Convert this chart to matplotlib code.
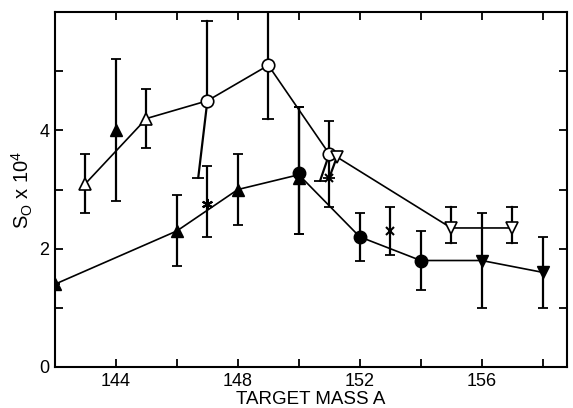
import numpy as np
import matplotlib
matplotlib.use("Agg")
import matplotlib.pyplot as plt

plt.rcParams['font.family'] = ['Liberation Sans', 'DejaVu Sans']
plt.rcParams['mathtext.fontset'] = 'custom'
plt.rcParams['mathtext.rm'] = 'Liberation Sans'
plt.rcParams['mathtext.it'] = 'Liberation Sans'

# lower (filled) curve through these points
low_line_x = [142, 146, 148, 150, 152, 154, 156, 158]
low_line_y = [1.4, 2.3, 3.0, 3.25, 2.2, 1.8, 1.8, 1.6]

# upper (open) curve
up_line_x = [143, 145, 147, 149, 151, 151.25, 155, 157]
up_line_y = [3.1, 4.2, 4.5, 5.1, 3.6, 3.55, 2.35, 2.35]

# filled triangles
ftri_x = [142, 144, 146, 148, 150]
ftri_y = [1.4, 4.0, 2.3, 3.0, 3.2]
ftri_lo = [1.4, 2.8, 1.7, 2.4, 2.25]
ftri_hi = [1.4, 5.2, 2.9, 3.6, 4.4]

# filled circles
fcir_x = [150, 152, 154]
fcir_y = [3.28, 2.2, 1.8]
fcir_lo = [2.25, 1.8, 1.3]
fcir_hi = [4.4, 2.6, 2.3]

# filled inverted triangles
finv_x = [156, 158]
finv_y = [1.8, 1.6]
finv_lo = [1.0, 1.0]
finv_hi = [2.6, 2.2]

# asterisk
ast_x = [147]
ast_y = [2.75]
ast_lo = [2.2]
ast_hi = [3.4]

# crosses
crs_x = [151, 153]
crs_y = [3.2, 2.3]
crs_lo = [2.7, 1.9]
crs_hi = [4.15, 2.7]

# open triangles
otri_x = [143, 145]
otri_y = [3.1, 4.2]
otri_lo = [2.6, 3.7]
otri_hi = [3.6, 4.7]

# open circles (upper bars vertical, some lower bars drawn slanted)
ocir_x = [147, 149, 151]
ocir_y = [4.5, 5.1, 3.6]
ocir_hi = [5.85, 6.0, 3.6]
ocir_lo_x = [146.7, 149, 150.7]
ocir_lo_y = [3.2, 4.2, 3.15]

# open inverted triangles
oinv_x = [151.25, 155, 157]
oinv_y = [3.55, 2.35, 2.35]
oinv_lo_x = [151.0, 155, 157]
oinv_lo_y = [3.2, 2.1, 2.1]
oinv_hi = [3.55, 2.7, 2.7]

fig = plt.figure(figsize=(5.73, 4.08), dpi=100)
ax = fig.add_axes([0.096, 0.1005, 0.8935, 0.87])

ekw = dict(fmt='none', ecolor='black', elinewidth=1.6, capsize=3.5, capthick=1.3, zorder=2)


def bars(x, y, lo, hi):
    y = np.array(y)
    err = [y - np.array(lo), np.array(hi) - y]
    ax.errorbar(x, y, yerr=err, **ekw)


def bar_to(x, y, ex, ey):
    # bar from the point to a capped end, end may sit a bit off in x
    ax.plot([x, ex], [y, ey], color='black', lw=1.6, zorder=2)
    ax.plot([ex], [ey], marker='_', ms=8, mew=1.3, color='black', zorder=2)


bars(ftri_x, ftri_y, ftri_lo, ftri_hi)
bars(fcir_x, fcir_y, fcir_lo, fcir_hi)
bars(finv_x, finv_y, finv_lo, finv_hi)
bars(ast_x, ast_y, ast_lo, ast_hi)
bars(crs_x, crs_y, crs_lo, crs_hi)
bars(otri_x, otri_y, otri_lo, otri_hi)

for x, y, hi, lx, ly in zip(ocir_x, ocir_y, ocir_hi, ocir_lo_x, ocir_lo_y):
    if hi > y:
        bar_to(x, y, x, hi)
    bar_to(x, y, lx, ly)

for x, y, hi, lx, ly in zip(oinv_x, oinv_y, oinv_hi, oinv_lo_x, oinv_lo_y):
    if hi > y:
        bar_to(x, y, x, hi)
    bar_to(x, y, lx, ly)

ax.plot(low_line_x, low_line_y, color='black', lw=1.2, zorder=3)
ax.plot(up_line_x, up_line_y, color='black', lw=1.2, zorder=3)

ax.plot(ftri_x, ftri_y, ls='none', marker='^', ms=9, mfc='black', mec='black', zorder=4)
ax.plot(fcir_x, fcir_y, ls='none', marker='o', ms=9, mfc='black', mec='black', zorder=4)
ax.plot(finv_x, finv_y, ls='none', marker='v', ms=9, mfc='black', mec='black', zorder=4)
ax.plot(ast_x, ast_y, ls='none', marker=(6, 2, 0), ms=8, mew=1.5, color='black', zorder=4)
ax.plot(crs_x, crs_y, ls='none', marker='x', ms=6, mew=1.5, color='black', zorder=4)
ax.plot(otri_x, otri_y, ls='none', marker='^', ms=9, mfc='white', mec='black', mew=1.2, zorder=4)
ax.plot(ocir_x, ocir_y, ls='none', marker='o', ms=9, mfc='white', mec='black', mew=1.2, zorder=4)
ax.plot(oinv_x, oinv_y, ls='none', marker='v', ms=9, mfc='white', mec='black', mew=1.2, zorder=4)

ax.set_xlim(142, 158.8)
ax.set_ylim(0, 6)
ax.set_xticks(np.arange(142, 159, 2))
ax.set_xticklabels(['' if v % 4 else str(v) for v in range(142, 159, 2)])
ax.set_yticks(np.arange(0, 7, 1))
ax.set_yticklabels(['0', '', '2', '', '4', '', ''])
ax.tick_params(direction='in', length=6, width=1.3, labelsize=13,
               top=True, right=True, pad=4)

for s in ax.spines.values():
    s.set_linewidth(1.5)

ax.set_xlabel('TARGET MASS A', fontsize=13.5, labelpad=1)
ax.set_ylabel(r'S$_{\rm O}$ x 10$^4$', fontsize=14.5, labelpad=3)

fig.savefig('out.png', dpi=100)
